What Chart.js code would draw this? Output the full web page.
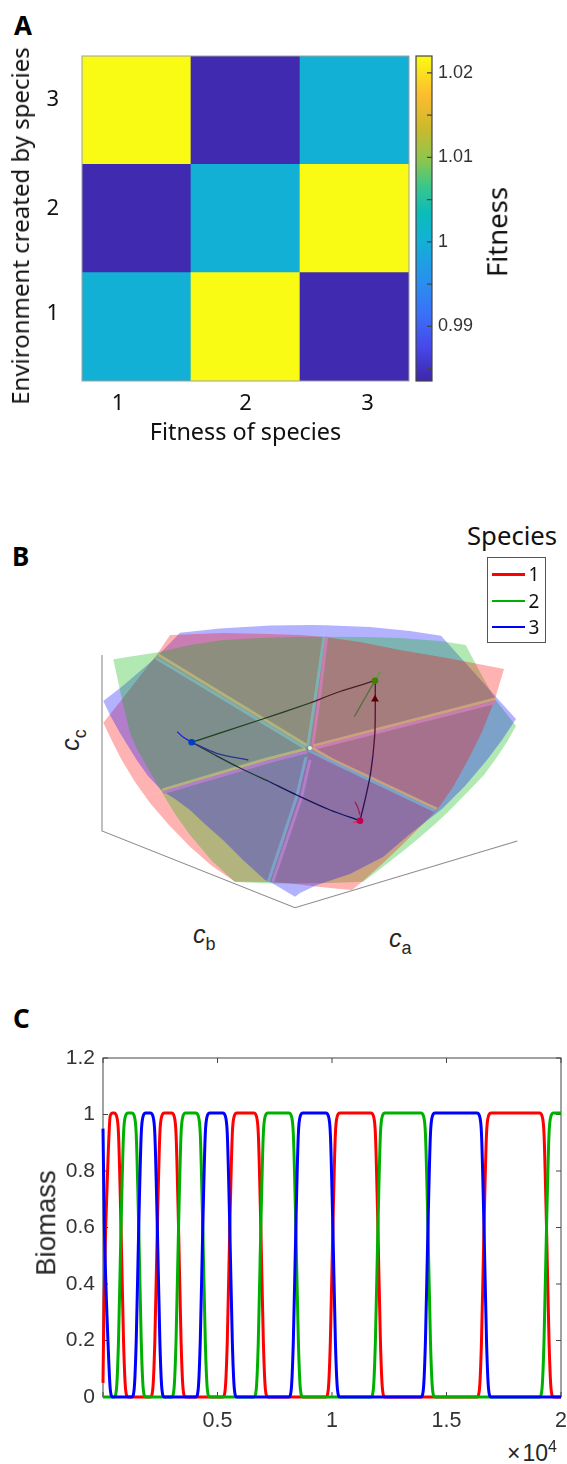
<!DOCTYPE html>
<html>
<head>
<meta charset="utf-8">
<title>Fitness, trajectories and biomass</title>
<script src="https://cdn.jsdelivr.net/npm/chart.js@4"></script>
<style>
  html, body { margin: 0; padding: 0; background: #fff; }
  #page { position: relative; width: 567px; height: 1464px; overflow: hidden; font-family: "Noto Sans", sans-serif; color: #111; }
  canvas { position: absolute; }
  .txt { position: absolute; white-space: nowrap; line-height: 1; }
  .up { transform: translate(-50%, -50%) rotate(-90deg); }
  .mid { transform: translate(-50%, -50%); }
  .letter { font-weight: 700; font-size: 26px; color: #000; }
  .math { font-family: "Liberation Sans", sans-serif; color: #262626; font-size: 25px; }
  .math i { font-style: italic; }
  .math sub { font-size: 18px; line-height: 0; vertical-align: -7px; }
  #legendBox { position: absolute; left: 487px; top: 557px; width: 57px; height: 84px; border: 1.5px solid #555; }
  .key { position: absolute; left: 4px; width: 33px; height: 2.5px; }
</style>
</head>
<body>
<div id="page">
  <div class="txt letter" style="left:14px;top:12px">A</div>
  <div class="txt letter" style="left:12px;top:543px">B</div>
  <div class="txt letter" style="left:13px;top:1005px">C</div>

  <canvas id="heat" width="415" height="410" style="left:0;top:40px"></canvas>
  <canvas id="bar" width="80" height="360" style="left:410px;top:40px"></canvas>
  <div class="txt up" style="left:20px;top:226px;font-size:24px">Environment created by species</div>
  <div class="txt up" style="left:497px;top:232px;font-size:27.5px">Fitness</div>

  <canvas id="simplex" width="440" height="295" style="left:90px;top:620px"></canvas>
  <div class="txt" style="left:467px;top:523px;font-size:25.7px">Species</div>
  <div id="legendBox">
    <div class="key" style="top:15px;background:#ff0000"></div>
    <div class="key" style="top:41.5px;background:#00b000"></div>
    <div class="key" style="top:67.5px;background:#0000ff"></div>
    <div class="txt mid" style="left:46px;top:16px;font-size:19px">1</div>
    <div class="txt mid" style="left:46px;top:42.5px;font-size:19px">2</div>
    <div class="txt mid" style="left:46px;top:68.5px;font-size:19px">3</div>
  </div>
  <div class="txt up math" style="left:70px;top:740px"><i>c</i><sub>c</sub></div>
  <div class="txt math" style="left:193px;top:922px"><i>c</i><sub>b</sub></div>
  <div class="txt math" style="left:389px;top:926px"><i>c</i><sub>a</sub></div>

  <canvas id="biomass" width="567" height="400" style="left:0;top:1040px"></canvas>
  <div class="txt up" style="left:46px;top:1223px;font-family:'Liberation Sans';font-size:27.5px;color:#262626">Biomass</div>
  <div class="txt" style="left:507px;top:1442px;font-family:'Liberation Sans';font-size:23px;color:#262626"><span style="margin-right:2px">&times;</span>10<span style="font-size:16px;position:relative;top:-9px">4</span></div>
</div>

<script>
// ---- panel A data
const speciesLabels = ['1', '2', '3']
// tick labels were placed by hand in the figure, they do not sit on the cell centres
const heatXTicks = [0.83, 2, 3.12]
const heatYTicks = [1.12, 2.09, 3.1]
const fitnessEnv1 = [1, 1.022, 0.984]
const fitnessEnv2 = [0.984, 1, 1.022]
const fitnessEnv3 = [1.022, 0.984, 1]
const fitnessMin = 0.98353
const fitnessMax = 1.022
const barTicks = [0.985, 0.99, 0.995, 1, 1.005, 1.01, 1.015, 1.02]
const barLabels = ['', '0.99', '', '1', '', '1.01', '', '1.02']
const parulaStops = ['#3e26a8', '#4746e8', '#3b6ef7', '#2a8ef0', '#13b0d6', '#0bbcb8', '#3cc68a', '#8cc64f', '#cdb92c', '#fdbc2f', '#f9fb15']
const parulaPos = [0, 0.1, 0.2, 0.3, 0.43, 0.52, 0.6, 0.68, 0.78, 0.88, 1]

// ---- panel B data in page pixels
const center = [310, 748]
// one list per sector going clockwise from the upper left spoke
const redArcs = [
  [[158, 653], [170, 635], [223, 633], [270, 634], [300, 635], [325, 637]],
  [[325, 637], [360, 642], [400, 650], [450, 658.5], [504, 669], [495, 699]],
  [[495, 699], [482, 732], [468, 760], [453, 787], [437, 810]],
  [[437, 810], [418, 829], [400, 847], [381, 865], [363, 881], [352, 890], [335, 888.5], [316, 886.5], [295, 884], [272, 882]],
  [[272, 882], [235, 881.7], [212, 866], [190, 846.7], [168, 824], [150, 803], [145, 796]],
  [[145, 796], [135, 782], [121.7, 760], [112, 741], [103.3, 722.7], [123, 698], [158, 653]],
]
const greenArcs = [
  [[158, 652.3], [190, 645], [223, 640], [270, 637.5], [310, 636.7], [325, 636.7]],
  [[325, 636.7], [365, 637], [400, 638], [440, 641], [465.7, 645], [480, 672], [495, 699]],
  [[495, 699], [516, 726], [507, 742], [497, 757], [484, 775], [466.7, 793], [447, 813]],
  [[447, 813], [434, 825], [416.7, 840], [400, 853.5], [382, 867.5], [363.3, 881.7], [330, 883], [272, 883.5]],
  [[272, 883.5], [235, 882], [212, 861], [190, 835], [175, 814], [163, 794]],
  [[163, 794], [146, 765], [137, 749], [130, 733], [125, 712], [121, 695], [113.3, 659.3], [158, 652.3]],
]
const blueArcs = [
  [[155.7, 657.7], [180, 632.7], [220, 628.5], [270, 625.5], [311, 625], [325, 625.2]],
  [[325, 625.2], [370, 627], [410, 631], [441, 635.7], [497, 698]],
  [[497, 698], [516, 719], [502, 740], [487, 760], [465, 786], [442, 809]],
  [[442, 809], [410, 834], [383, 857], [350, 874], [317, 885], [300, 893], [295, 896.7], [272, 883]],
  [[272, 883], [265, 880], [243, 860], [223, 840], [206, 825], [190, 810], [175, 799], [162, 790.7]],
  [[162, 790.7], [148, 776], [136.7, 760], [120, 733], [110, 715], [103.3, 701], [121.7, 686.7], [155.7, 657.7]],
]
// bottom to top drawing order inside each sector
const sectorOrder = ['brg', 'bgr', 'gbr', 'grb', 'rgb', 'rbg']

const yellowBand = 'rgb(178,178,125)'
const tealBand = 'rgb(125,178,178)'
const pinkBand = 'rgb(201,125,178)'
const orangeBand = 'rgb(201,162,125)'
const steelBand = 'rgb(125,162,201)'
const violetBand = 'rgb(178,125,201)'
const bandColors = [yellowBand, tealBand, tealBand, pinkBand, orangeBand, pinkBand, orangeBand, steelBand, steelBand, violetBand, yellowBand, violetBand]
const bandPaths = [
  [[158.5, 655], [307, 745.5]],
  [[156, 658], [305, 748]],
  [[324, 636.7], [316.7, 688], [307.7, 746.7]],
  [[326.7, 636.7], [320, 693], [312.7, 745]],
  [[495, 699], [313, 746]],
  [[495, 702.5], [313, 748.5]],
  [[437, 809], [333, 760], [312, 748]],
  [[435, 811], [328, 760], [308, 750]],
  [[306, 757], [296.7, 796.7], [268.3, 881.7]],
  [[310, 760], [301.7, 796.7], [272.7, 881.7]],
  [[162.3, 790], [263.3, 760], [306, 749]],
  [[163.3, 792.5], [275, 760], [307, 752]],
]

const boxFrame = [[102, 655], [102, 831], [295, 907.7], [517.3, 841]]
const pathColors = ['#4a2020', '#1f3f1f', '#1d3a35', '#14145a', '#300f50', '#5a1030', '#2fb52f', '#507040', '#2020e0', '#303090', '#a02050', '#ff2020']
const pathLines = [
  [[375, 680.7], [340, 691.5], [310, 703]],
  [[310, 703], [256.7, 721], [191.7, 742.3]],
  [[191.7, 742.3], [215, 755], [240, 768], [270, 782]],
  [[270, 782], [296.7, 795], [330, 810], [360, 820.7]],
  [[360, 820.7], [365, 800], [370, 776.7], [373, 755]],
  [[373, 755], [375, 730], [375.3, 681]],
  [[380, 671.7], [375, 680.7]],
  [[375, 680.7], [365, 698], [354.3, 716.7]],
  [[177.3, 731.7], [183, 737], [191.7, 742.3]],
  [[191.7, 742.3], [216.7, 753.3], [248.3, 760]],
  [[355, 801.7], [358, 808], [360, 815]],
  [[353.3, 822.3], [360, 821.5]],
]
const stopPoints = [[375, 680.7], [191.7, 742.3], [360, 820.7]]
const stopColors = ['#3f8000', '#0040c0', '#c00050']
const arrowPoint = [[375, 699.3]]

// ---- panel C data
const tRed = [0, 45, 118, 218, 315, 424,
  481, 590, 678, 787, 896, 984, 1093,
  2067, 2176, 2264, 2373, 2482, 2570, 2679,
  2993, 3102, 3190, 3299, 3408, 3496, 3605,
  5231, 5340, 5428, 5537, 5646, 5734, 5843,
  6586, 6695, 6783, 6892, 7001, 7089, 7198,
  9732, 9841, 9929, 10038, 10147, 10235, 10344,
  11699, 11808, 11896, 12005, 12114, 12202, 12311,
  16332, 16441, 16529, 16638, 16747, 16835, 16944,
  19062, 19171, 19259, 19368, 19477, 19565, 19674, 20000]
const yRed = [0.05, 0.34, 0.6, 0.84, 0.995, 1.005,
  1.005, 0.995, 0.93, 0.6, 0.2, 0.03, 0,
  0, 0.03, 0.2, 0.6, 0.93, 0.995, 1.005,
  1.005, 0.995, 0.93, 0.6, 0.2, 0.03, 0,
  0, 0.03, 0.2, 0.6, 0.93, 0.995, 1.005,
  1.005, 0.995, 0.93, 0.6, 0.2, 0.03, 0,
  0, 0.03, 0.2, 0.6, 0.93, 0.995, 1.005,
  1.005, 0.995, 0.93, 0.6, 0.2, 0.03, 0,
  0, 0.03, 0.2, 0.6, 0.93, 0.995, 1.005,
  1.005, 0.995, 0.93, 0.6, 0.2, 0.03, 0, 0]
const tGreen = [0,
  481, 590, 678, 787, 896, 984, 1093,
  1254, 1363, 1451, 1560, 1669, 1757, 1866,
  2993, 3102, 3190, 3299, 3408, 3496, 3605,
  4051, 4160, 4248, 4357, 4466, 4554, 4663,
  6586, 6695, 6783, 6892, 7001, 7089, 7198,
  8115, 8224, 8312, 8421, 8530, 8618, 8727,
  11699, 11808, 11896, 12005, 12114, 12202, 12311,
  13884, 13993, 14081, 14190, 14299, 14387, 14496,
  19062, 19171, 19259, 19368, 19477, 19565, 19674, 20000]
const yGreen = [0,
  0, 0.03, 0.2, 0.6, 0.93, 0.995, 1.005,
  1.005, 0.995, 0.93, 0.6, 0.2, 0.03, 0,
  0, 0.03, 0.2, 0.6, 0.93, 0.995, 1.005,
  1.005, 0.995, 0.93, 0.6, 0.2, 0.03, 0,
  0, 0.03, 0.2, 0.6, 0.93, 0.995, 1.005,
  1.005, 0.995, 0.93, 0.6, 0.2, 0.03, 0,
  0, 0.03, 0.2, 0.6, 0.93, 0.995, 1.005,
  1.005, 0.995, 0.93, 0.6, 0.2, 0.03, 0,
  0, 0.03, 0.2, 0.6, 0.93, 0.995, 1.005, 1.005]
const tBlue = [0, 60, 150, 215, 315, 424,
  1254, 1363, 1451, 1560, 1669, 1757, 1866,
  2067, 2176, 2264, 2373, 2482, 2570, 2679,
  4051, 4160, 4248, 4357, 4466, 4554, 4663,
  5231, 5340, 5428, 5537, 5646, 5734, 5843,
  8115, 8224, 8312, 8421, 8530, 8618, 8727,
  9732, 9841, 9929, 10038, 10147, 10235, 10344,
  13884, 13993, 14081, 14190, 14299, 14387, 14496,
  16332, 16441, 16529, 16638, 16747, 16835, 16944, 20000]
const yBlue = [0.95, 0.6, 0.34, 0.2, 0.03, 0,
  0, 0.03, 0.2, 0.6, 0.93, 0.995, 1.005,
  1.005, 0.995, 0.93, 0.6, 0.2, 0.03, 0,
  0, 0.03, 0.2, 0.6, 0.93, 0.995, 1.005,
  1.005, 0.995, 0.93, 0.6, 0.2, 0.03, 0,
  0, 0.03, 0.2, 0.6, 0.93, 0.995, 1.005,
  1.005, 0.995, 0.93, 0.6, 0.2, 0.03, 0,
  0, 0.03, 0.2, 0.6, 0.93, 0.995, 1.005,
  1.005, 0.995, 0.93, 0.6, 0.2, 0.03, 0, 0]

Chart.defaults.animation = false
Chart.defaults.responsive = false
Chart.defaults.font.family = '"Liberation Sans", sans-serif'
Chart.defaults.plugins.legend.display = false
Chart.defaults.plugins.tooltip.enabled = false

function hexToRgb(hex) {
  return [1, 3, 5].map(i => parseInt(hex.substr(i, 2), 16))
}

function parula(value) {
  const p = (value - fitnessMin) / (fitnessMax - fitnessMin)
  let i = 0
  while (i < parulaPos.length - 2 && p > parulaPos[i + 1]) i++
  const f = Math.min(1, Math.max(0, (p - parulaPos[i]) / (parulaPos[i + 1] - parulaPos[i])))
  const a = hexToRgb(parulaStops[i])
  const b = hexToRgb(parulaStops[i + 1])
  return 'rgb(' + a.map((c, k) => Math.round(c + (b[k] - c) * f)).join(',') + ')'
}

// fixed axis size, and no extra room for labels that hang over the plot ends
function fixSize(s, size) {
  if (s.isHorizontal()) s.height = size
  else s.width = size
  s.paddingLeft = s.paddingRight = s.paddingTop = s.paddingBottom = 0
}

// MATLAB style box with the tick marks pointing inward
function drawBox(chart, o) {
  const { ctx, chartArea: a, scales } = chart
  ctx.save()
  ctx.strokeStyle = o.color
  ctx.lineWidth = o.width || 1
  ctx.strokeRect(a.left, a.top, a.right - a.left, a.bottom - a.top)
  ctx.beginPath()
  if (o.len) {
    scales.y.ticks.forEach(t => {
      const py = scales.y.getPixelForValue(t.value)
      if (o.bothSides) { ctx.moveTo(a.left, py); ctx.lineTo(a.left + o.len, py) }
      ctx.moveTo(a.right, py); ctx.lineTo(a.right - o.len, py)
    })
    if (o.bothSides) {
      scales.x.ticks.forEach(t => {
        const px = scales.x.getPixelForValue(t.value)
        ctx.moveTo(px, a.top); ctx.lineTo(px, a.top + o.len)
        ctx.moveTo(px, a.bottom); ctx.lineTo(px, a.bottom - o.len)
      })
    }
  }
  ctx.stroke()
  ctx.restore()
}

const boxPlugin = {
  id: 'boxTicks',
  beforeDatasetsDraw(chart, args, o) { if (o.under) drawBox(chart, o) },
  afterDatasetsDraw(chart, args, o) { if (!o.under) drawBox(chart, o) },
}

// ---- A: heat map
function heatRow(row, values) {
  return {
    data: values.map((v, i) => ({ x: i + 1, y: [row - 0.5, row + 0.5] })),
    backgroundColor: values.map(parula),
    borderWidth: 0,
    barPercentage: 1,
    categoryPercentage: 1,
    grouped: false,
  }
}

new Chart(document.getElementById('heat'), {
  type: 'bar',
  data: { datasets: [heatRow(1, fitnessEnv1), heatRow(2, fitnessEnv2), heatRow(3, fitnessEnv3)] },
  options: {
    layout: { autoPadding: false, padding: { top: 16, right: 6 } },
    scales: {
      x: {
        type: 'linear', min: 0.5, max: 3.5, offset: false,
        grid: { display: false, drawTicks: false }, border: { display: false },
        afterFit(s) { fixSize(s, 69) },
        afterBuildTicks(s) { s.ticks = heatXTicks.map(v => ({ value: v })) },
        ticks: {
          autoSkip: false, maxRotation: 0, padding: 10, color: '#111',
          font: { family: '"Noto Sans"', size: 22 },
          callback: (v, i) => speciesLabels[i],
        },
        title: {
          display: true, text: 'Fitness of species', color: '#111',
          font: { family: '"Noto Sans"', size: 23.4 }, padding: { top: 0, bottom: 3 },
        },
      },
      y: {
        type: 'linear', min: 0.5, max: 3.5,
        grid: { display: false, drawTicks: false }, border: { display: false },
        afterFit(s) { fixSize(s, 82) },
        afterBuildTicks(s) { s.ticks = heatYTicks.map(v => ({ value: v })) },
        ticks: {
          autoSkip: false, padding: 23, color: '#111',
          font: { family: '"Noto Sans"', size: 22 },
          callback: (v, i) => speciesLabels[i],
        },
      },
    },
    plugins: { boxTicks: { color: '#a0a0a0', width: 1 } },
  },
  plugins: [boxPlugin],
})

// ---- A: colour bar
new Chart(document.getElementById('bar'), {
  type: 'bar',
  data: {
    labels: ['Fitness'],
    datasets: [{
      data: [[fitnessMin, fitnessMax]],
      barPercentage: 1,
      categoryPercentage: 1,
      borderWidth: 0,
      backgroundColor(c) {
        const a = c.chart.chartArea
        if (!a) return parulaStops[0]
        const g = c.chart.ctx.createLinearGradient(0, a.bottom, 0, a.top)
        parulaStops.forEach((col, i) => g.addColorStop(parulaPos[i], col))
        return g
      },
    }],
  },
  options: {
    layout: { autoPadding: false, padding: { top: 16, left: 6, bottom: 19 } },
    scales: {
      x: { display: false },
      y: {
        position: 'right', min: fitnessMin, max: fitnessMax,
        grid: { display: false, drawTicks: false }, border: { display: false },
        afterFit(s) { fixSize(s, 58) },
        afterBuildTicks(s) { s.ticks = barTicks.map(v => ({ value: v })) },
        ticks: {
          autoSkip: false, padding: 6, color: '#333',
          font: { size: 18 },
          callback: (v, i) => barLabels[i],
        },
      },
    },
    plugins: { boxTicks: { color: '#444', width: 1.2, len: 5 } },
  },
  plugins: [boxPlugin],
})

// ---- B: the three surfaces, split in six sectors so the overlap order can change
const surfaceArcs = { r: redArcs, g: greenArcs, b: blueArcs }
const surfaceFill = { r: 'rgba(255,0,0,0.3)', g: 'rgba(0,178,0,0.3)', b: 'rgba(0,0,255,0.3)' }

function toPoints(list) {
  return list.map(p => ({ x: p[0], y: p[1] }))
}

const simplexLayers = []
sectorOrder.forEach((order, i) => {
  order.split('').forEach(k => {
    simplexLayers.push({
      data: toPoints([center, ...surfaceArcs[k][i], center]),
      showLine: true,
      fill: 'shape',
      backgroundColor: surfaceFill[k],
      borderWidth: 0,
      pointRadius: 0,
    })
  })
})
bandPaths.forEach((path, i) => {
  simplexLayers.push({ data: toPoints(path), showLine: true, borderColor: bandColors[i], borderWidth: 3, pointRadius: 0 })
})
simplexLayers.push({ data: toPoints([center]), pointRadius: 2, backgroundColor: '#e8f0e8', borderWidth: 0 })
simplexLayers.push({ data: toPoints(boxFrame), showLine: true, borderColor: '#8c8c8c', borderWidth: 1.1, pointRadius: 0 })
pathLines.forEach((path, i) => {
  simplexLayers.push({ data: toPoints(path), showLine: true, tension: 0.3, borderColor: pathColors[i], borderWidth: 1.3, pointRadius: 0 })
})
simplexLayers.push({ data: toPoints(arrowPoint), pointStyle: 'triangle', pointRadius: 4.5, backgroundColor: '#5a0000', borderWidth: 0 })
simplexLayers.push({ data: toPoints(stopPoints), pointRadius: 3.3, backgroundColor: stopColors, borderWidth: 0 })

new Chart(document.getElementById('simplex'), {
  type: 'scatter',
  // first dataset ends up on top in Chart.js
  data: { datasets: simplexLayers.reverse() },
  options: {
    layout: { autoPadding: false },
    scales: {
      x: { type: 'linear', display: false, min: 90, max: 530 },
      y: { type: 'linear', display: false, min: 620, max: 915, reverse: true },
    },
  },
})

// ---- C: biomass time series
function trace(t, y, color) {
  return {
    data: t.map((v, i) => ({ x: v, y: y[i] })),
    borderColor: color,
    borderWidth: 3,
    pointRadius: 0,
    clip: 3,
    cubicInterpolationMode: 'monotone',
  }
}

new Chart(document.getElementById('biomass'), {
  type: 'line',
  data: {
    datasets: [
      trace(tBlue, yBlue, '#0000ff'),
      trace(tGreen, yGreen, '#00b000'),
      trace(tRed, yRed, '#ff0000'),
    ],
  },
  options: {
    layout: { autoPadding: false, padding: { top: 18, right: 6 } },
    scales: {
      x: {
        type: 'linear', min: 0, max: 20000,
        grid: { display: false, drawTicks: false }, border: { display: false },
        afterFit(s) { fixSize(s, 43) },
        ticks: {
          stepSize: 5000, maxRotation: 0, padding: 11, color: '#333',
          font: { size: 21.5 },
          callback: v => (v === 0 ? '' : String(v / 10000)),
        },
      },
      y: {
        min: 0, max: 1.2,
        grid: { display: false, drawTicks: false }, border: { display: false },
        afterFit(s) { fixSize(s, 103) },
        ticks: {
          stepSize: 0.2, padding: 8, color: '#333',
          font: { size: 21 },
          callback: v => String(Math.round(v * 10) / 10),
        },
      },
    },
    plugins: { boxTicks: { color: '#444', width: 1, len: 5, bothSides: true, under: true } },
  },
  plugins: [boxPlugin],
})
</script>
</body>
</html>
